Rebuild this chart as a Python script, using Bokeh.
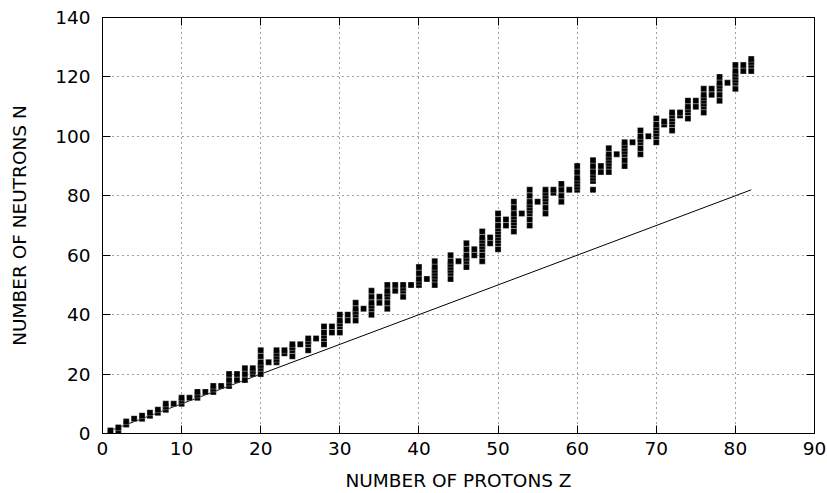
from bokeh.plotting import figure
from bokeh.models import LinearAxis, Range1d, FixedTicker, ColumnDataSource
from bokeh.embed import file_html
from bokeh.resources import INLINE

# Stable (and primordial) nuclides: neutron numbers for each proton number Z = 1..82
neutron_numbers = [
    [0, 1], [1, 2], [3, 4], [5], [5, 6], [6, 7], [7, 8], [8, 9, 10], [10], [10, 11, 12],
    [12], [12, 13, 14], [14], [14, 15, 16], [16], [16, 17, 18, 20], [18, 20], [18, 20, 22],
    [20, 21, 22], [20, 22, 23, 24, 26, 28], [24], [24, 25, 26, 27, 28], [27, 28],
    [26, 28, 29, 30], [30], [28, 30, 31, 32], [32], [30, 32, 33, 34, 36], [34, 36],
    [34, 36, 37, 38, 40], [38, 40], [38, 40, 41, 42, 44], [42], [40, 42, 43, 44, 46, 48],
    [44, 46], [42, 44, 46, 47, 48, 50], [48, 50], [46, 48, 49, 50], [50],
    [50, 51, 52, 54, 56], [52], [50, 52, 53, 54, 55, 56, 58], [],
    [52, 54, 55, 56, 57, 58, 60], [58], [56, 58, 59, 60, 62, 64], [60, 62],
    [58, 60, 62, 63, 64, 65, 66, 68], [64, 66], [62, 64, 65, 66, 67, 68, 69, 70, 72, 74],
    [70, 72], [68, 70, 71, 72, 73, 74, 76, 78], [74], [70, 72, 74, 75, 76, 77, 78, 80, 82],
    [78], [74, 76, 78, 79, 80, 81, 82], [81, 82], [78, 80, 82, 84], [82],
    [82, 83, 84, 85, 86, 88, 90], [], [82, 85, 86, 87, 88, 90, 92], [88, 90],
    [88, 90, 91, 92, 93, 94, 96], [94], [90, 92, 94, 95, 96, 97, 98], [98],
    [94, 96, 98, 99, 100, 102], [100], [98, 100, 101, 102, 103, 104, 106], [104, 105],
    [102, 104, 105, 106, 107, 108], [107, 108], [106, 108, 109, 110, 112], [110, 112],
    [108, 110, 111, 112, 113, 114, 116], [114, 116], [112, 114, 116, 117, 118, 120], [118],
    [116, 118, 119, 120, 121, 122, 124], [122, 124], [122, 124, 125, 126],
]
proton_numbers = list(range(1, len(neutron_numbers) + 1))

x_ticks = [0, 10, 20, 30, 40, 50, 60, 70, 80, 90]
y_ticks = [0, 20, 40, 60, 80, 100, 120, 140]
x_label = "NUMBER OF PROTONS Z"
y_label = "NUMBER OF NEUTRONS N"

zs, ns = [], []
for z, nl in zip(proton_numbers, neutron_numbers):
    for n in nl:
        zs.append(z)
        ns.append(n)
src = ColumnDataSource(dict(z=zs, n=ns))

# N = Z reference line across the range of elements
line_z = [min(proton_numbers), max(proton_numbers)]
line_n = list(line_z)

FONT = "DejaVu Sans"
FS = "18.5px"

p = figure(width=827, height=493, output_backend="svg", toolbar_location=None,
           x_range=Range1d(x_ticks[0], x_ticks[-1]), y_range=Range1d(y_ticks[0], y_ticks[-1]),
           min_border_left=102, min_border_right=13, min_border_top=17, min_border_bottom=60,
           x_axis_location=None, y_axis_location=None)
p.background_fill_color = "white"
p.border_fill_color = "white"
p.outline_line_color = "black"
p.outline_line_width = 1


def style_axis(ax, ticks, show_labels):
    ax.ticker = FixedTicker(ticks=ticks)
    ax.axis_line_color = "black"
    ax.major_tick_in = 8
    ax.major_tick_out = 0
    ax.minor_tick_line_color = None
    ax.major_tick_line_color = "black"
    ax.major_label_text_font = FONT
    ax.major_label_text_font_size = FS
    ax.major_label_text_color = "black"
    ax.axis_label_text_font = FONT
    ax.axis_label_text_font_size = FS
    ax.axis_label_text_font_style = "normal"
    ax.axis_label_text_color = "black"
    if not show_labels:
        ax.major_label_overrides = {t: "" for t in ticks}
        ax.major_label_standoff = 0


xb = LinearAxis(axis_label=x_label)
style_axis(xb, x_ticks, True)
xb.major_label_standoff = 8
xb.axis_label_standoff = 12
p.add_layout(xb, "below")

yl = LinearAxis(axis_label=y_label)
style_axis(yl, y_ticks, True)
yl.major_label_standoff = 12
yl.axis_label_standoff = 22
p.add_layout(yl, "left")

xt = LinearAxis()
style_axis(xt, x_ticks, False)
p.add_layout(xt, "above")

yr = LinearAxis()
style_axis(yr, y_ticks, False)
p.add_layout(yr, "right")

p.xgrid.ticker = FixedTicker(ticks=x_ticks)
p.ygrid.ticker = FixedTicker(ticks=y_ticks)
for g in (p.xgrid, p.ygrid):
    g.grid_line_color = "black"
    g.grid_line_alpha = 0.75
    g.grid_line_dash = "1 4"
    g.grid_line_width = 1

p.line(line_z, line_n, line_color="black", line_width=1)
p.scatter("z", "n", source=src, marker="square", size=6, fill_color="black",
          line_color="white", line_width=0.5, line_alpha=0.6)

open("out.html", "w").write(file_html(p, INLINE))
